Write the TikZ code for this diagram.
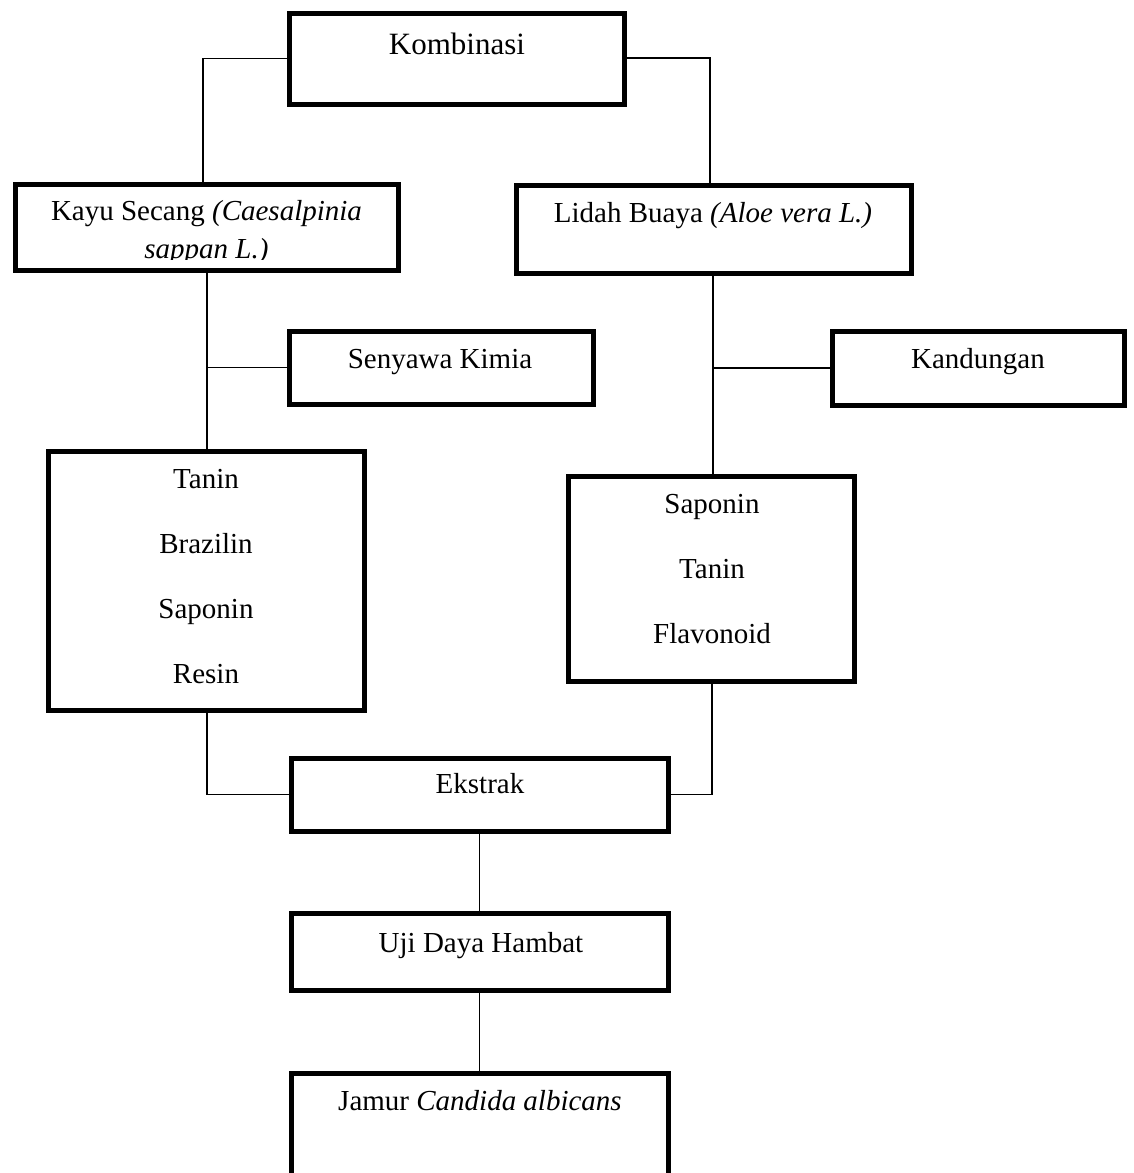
\documentclass[tikz,border=0pt]{standalone}
\usepackage{fontspec}
\setmainfont{Liberation Serif}
\usetikzlibrary{calc}
\begin{document}
\begin{tikzpicture}[x=1pt,y=-1pt,
  box/.style={draw=black,line width=5pt,inner sep=0pt,outer sep=0pt,fill=none},
  conn/.style={draw=black,line width=1.6pt},
  txt/.style={anchor=base,inner sep=0pt,font=\fontsize{29}{35}\selectfont}]
\clip (0,0) rectangle (1133,1173);
\fill[white] (0,0) rectangle (1133,1173);
% boxes (stroke-centre rectangles)
\newcommand{\boxat}[5]{\node[box,minimum width=#4pt,minimum height=#5pt] (#1) at (#2,#3) {};}
\boxat{komb}{456.5}{58.5}{335}{91}
\boxat{kayu}{206.5}{227}{383}{86}
\boxat{lidah}{713.5}{229}{395}{88}
\boxat{senyawa}{441}{367.5}{304}{73}
\boxat{kandungan}{978}{368}{292}{74}
\boxat{tanin}{206}{580.5}{316}{259}
\boxat{saponin}{711}{578.5}{286}{205}
\boxat{ekstrak}{479.5}{794.5}{377}{73}
\boxat{uji}{479.5}{951.5}{377}{77}
\boxat{jamur}{479.5}{1136.5}{377}{127}
% texts
\node[txt,font=\fontsize{31}{37}\selectfont] (tkomb) at (457,54) {Kombinasi};
\begin{scope}
\clip (0,0) rectangle (1133,259.5);
\node[txt] (tkayu1) at (206.5,220) {Kayu Secang \textit{(Caesalpinia}};
\node[txt] (tkayu2) at (206.5,258) {\textit{sappan L.)}};
\end{scope}
\node[txt] (tlidah) at (713,222) {Lidah Buaya \textit{(Aloe vera L.)}};
\node[txt] (tsen) at (440,368) {Senyawa Kimia};
\node[txt] (tkan) at (978,368) {Kandungan};
\node[txt] (ta1) at (206,488) {Tanin};
\node[txt] (ta2) at (206,553) {Brazilin};
\node[txt] (ta3) at (206,618) {Saponin};
\node[txt] (ta4) at (206,683) {Resin};
\node[txt] (tb1) at (712,513) {Saponin};
\node[txt] (tb2) at (712,578) {Tanin};
\node[txt] (tb3) at (712,643) {Flavonoid};
\node[txt] (tek) at (480,793) {Ekstrak};
\node[txt] (tuji) at (481,952) {Uji Daya Hambat};
\node[txt] (tjam) at (480,1110) {Jamur \textit{Candida albicans}};
% connectors
\draw[conn] (komb.west) -| ([xshift=-3.5pt]kayu.north);
\draw[conn] ([yshift=0.5pt]komb.east) -| ([xshift=-3.5pt]lidah.north);
\draw[conn] ([xshift=0.5pt]kayu.south) -- ([xshift=1pt]tanin.north);
\coordinate (bl) at ([xshift=1pt]tanin.north |- senyawa.west);
\draw[conn] (bl) -- (senyawa.west);
\draw[conn] ([xshift=-0.5pt]lidah.south) -- ([xshift=2pt]saponin.north);
\coordinate (br) at ([xshift=1.5pt]saponin.north |- kandungan.west);
\draw[conn] (br) -- (kandungan.west);
\draw[conn] ([xshift=1pt]tanin.south) |- (ekstrak.west);
\draw[conn] ([xshift=1pt]saponin.south) |- (ekstrak.east);
\draw[conn] (ekstrak.south) -- (uji.north);
\draw[conn] (uji.south) -- (jamur.north);
\end{tikzpicture}
\end{document}
